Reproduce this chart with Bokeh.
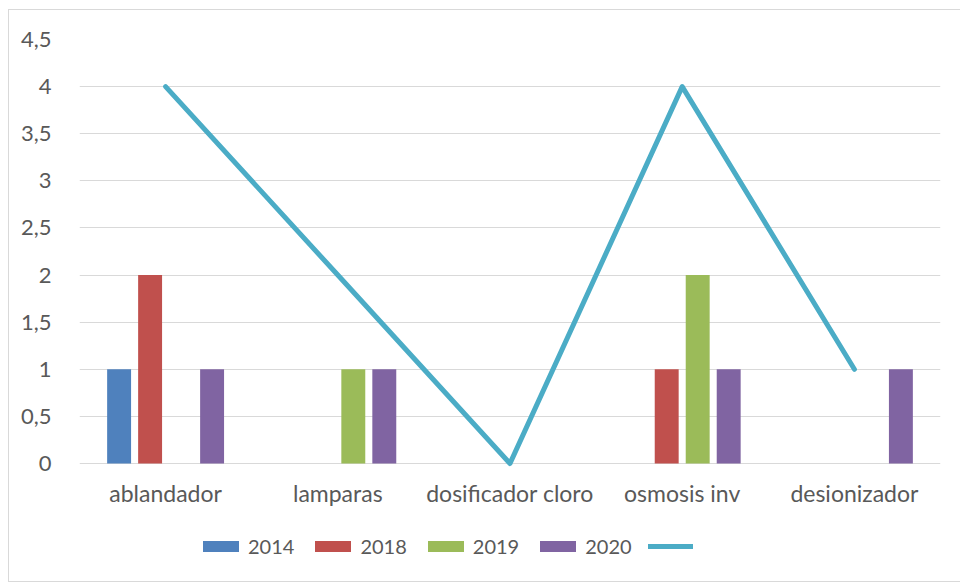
from bokeh.plotting import figure
from bokeh.models import ColumnDataSource, Legend, LegendItem, FactorRange, FixedTicker, CustomJSTickFormatter
from bokeh.transform import dodge
from bokeh.embed import file_html
from bokeh.resources import INLINE

categories = ["ablandador", "lamparas", "dosificador cloro", "osmosis inv", "desionizador"]
s2014 = [1, 0, 0, 0, 0]
s2018 = [2, 0, 0, 1, 0]
s2019 = [0, 1, 0, 2, 0]
s2020 = [1, 1, 0, 1, 1]
line_vals = [4, 2, 0, 4, 1]
series_names = ["2014", "2018", "2019", "2020"]
y_ticks = [0, 0.5, 1, 1.5, 2, 2.5, 3, 3.5, 4, 4.5]
colors = ["#4F81BD", "#C0504D", "#9BBB59", "#8064A2"]
line_color = "#4BACC6"

src = ColumnDataSource(dict(cat=categories, s2014=s2014, s2018=s2018, s2019=s2019,
                            s2020=s2020, line=line_vals))

FONT = "Lato"
TXT = "#595959"
GRID = "#D9D9D9"

# frame layout (pixels): value axis 0..4.5 spans 424 px, frame extends below 0 for the legend
FRAME_H = 539
PX_PER_UNIT = 424 / 4.5
y_start = 4.5 - FRAME_H / PX_PER_UNIT

p = figure(x_range=FactorRange(*categories), y_range=(y_start, 4.5),
           width=966, height=573, output_backend="svg", toolbar_location=None,
           min_border_left=70, min_border_right=35, min_border_top=29, min_border_bottom=5,
           margin=(9, 0, 0, 8),
           styles={"border-left": "1px solid #D9D9D9", "border-top": "1px solid #D9D9D9",
                   "border-bottom": "1px solid #D9D9D9"})
p.outline_line_color = None
p.background_fill_color = "white"
p.border_fill_color = "white"

offsets = [-0.27, -0.09, 0.09, 0.27]
keys = ["s2014", "s2018", "s2019", "s2020"]
bar_renderers = []
for k, off, c in zip(keys, offsets, colors):
    r = p.vbar(x=dodge("cat", off, range=p.x_range), top=k, bottom=0, width=0.139, source=src,
               fill_color=c, line_color=None)
    bar_renderers.append(r)

lr = p.line(x="cat", y="line", source=src, line_width=5, line_color=line_color,
            line_cap="round", line_join="round")

# axes
p.yaxis.ticker = FixedTicker(ticks=y_ticks)
p.yaxis.formatter = CustomJSTickFormatter(code="return tick.toString().replace('.', ',');")
for ax in (p.xaxis[0], p.yaxis[0]):
    ax.axis_line_color = None
    ax.major_tick_line_color = None
    ax.minor_tick_line_color = None
    ax.major_label_text_font = FONT
    ax.major_label_text_color = TXT
p.xaxis.fixed_location = 0
p.xaxis.major_label_text_font_size = "23px"
p.yaxis.major_label_text_font_size = "22px"
p.yaxis.major_label_standoff = 22
p.xaxis.major_label_standoff = 9
p.xgrid.grid_line_color = None
p.ygrid.grid_line_color = GRID
p.ygrid.grid_line_width = 1

items = [LegendItem(label=n, renderers=[r]) for n, r in zip(series_names, bar_renderers)]
items.append(LegendItem(label=" ", renderers=[lr]))
legend = Legend(items=items, orientation="horizontal", location=(119, 20),
                glyph_width=45, glyph_height=14, label_standoff=5, spacing=16,
                padding=0, margin=0, border_line_color=None, background_fill_alpha=0,
                label_text_font=FONT, label_text_font_size="20px", label_text_color=TXT)
p.add_layout(legend, "center")

open("out.html", "w").write(file_html(p, INLINE))
